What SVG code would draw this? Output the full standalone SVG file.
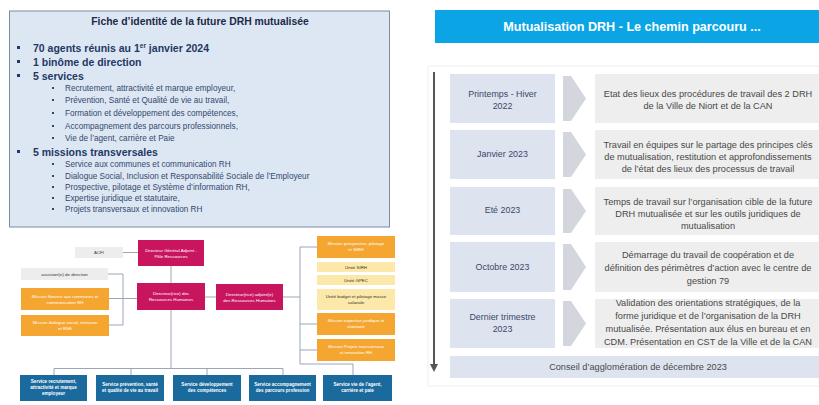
<svg xmlns="http://www.w3.org/2000/svg" width="819" height="405" viewBox="0 0 819 405">
<style>
text{font-family:"Liberation Sans",Arial,sans-serif}
.ttl{font-size:10.4px;font-weight:bold;fill:#1c2a48;text-anchor:middle}
.mb{font-size:10.5px;font-weight:bold;fill:#1f3864}
.sb{font-size:8.2px;fill:#33476e}
.hdr{font-size:12.6px;font-weight:bold;fill:#ffffff;text-anchor:middle}
.dt{font-size:8.9px;fill:#3b4866;text-anchor:middle}
.ds{font-size:9.2px;fill:#484848;text-anchor:middle}
.dbox{fill:#dde4f0}
.gbox{fill:#eeeeee}
.chev{fill:#d3d6dc}
.org{font-size:4.4px;text-anchor:middle}
.w{fill:#ffffff}
.k{fill:#333333}
.mag{fill:#c8155e}
.ora{fill:#f5a631}
.pal{fill:#fce8a8}
.blu{fill:#1a6a9e}
.gry{fill:#ededed}
.conn{stroke:#8e9cb2;stroke-width:0.9;fill:none}
.svc{font-size:4.6px;font-weight:bold;fill:#ffffff;text-anchor:middle}
</style>
<defs>
<marker id="ah" viewBox="0 0 10 10" refX="5" refY="5" markerWidth="4" markerHeight="4" orient="auto">
<path d="M0,0 L10,5 L0,10 z" fill="#555555"/>
</marker>
</defs>
<rect width="819" height="405" fill="#ffffff"/>

<!-- Left identity card -->
<g id="fiche">
<rect x="9.5" y="11" width="380" height="216" fill="#dde7f3" stroke="#7d8ca3" stroke-width="1"/>
<text class="ttl" x="200" y="25">Fiche d’identité de la future DRH mutualisée</text>
<g fill="#1f3864">
<rect x="17" y="46" width="3" height="3"/>
<rect x="17" y="60" width="3" height="3"/>
<rect x="17" y="74" width="3" height="3"/>
<rect x="17" y="150" width="3" height="3"/>
</g>
<text class="mb" x="33" y="52">70 agents réunis au 1<tspan font-size="6.5" dy="-4">er</tspan><tspan dy="4"> janvier 2024</tspan></text>
<text class="mb" x="33" y="66">1 binôme de direction</text>
<text class="mb" x="33" y="80">5 services</text>
<text class="mb" x="33" y="156">5 missions transversales</text>
<g fill="#33476e">
<rect x="52" y="87" width="2" height="2"/>
<rect x="52" y="99" width="2" height="2"/>
<rect x="52" y="112" width="2" height="2"/>
<rect x="52" y="125" width="2" height="2"/>
<rect x="52" y="137" width="2" height="2"/>
<rect x="52" y="163" width="2" height="2"/>
<rect x="52" y="175" width="2" height="2"/>
<rect x="52" y="186" width="2" height="2"/>
<rect x="52" y="197" width="2" height="2"/>
<rect x="52" y="208" width="2" height="2"/>
</g>
<text class="sb" x="65" y="91">Recrutement, attractivité et marque employeur,</text>
<text class="sb" x="65" y="103">Prévention, Santé et Qualité de vie au travail,</text>
<text class="sb" x="65" y="116">Formation et développement des compétences,</text>
<text class="sb" x="65" y="129">Accompagnement des parcours professionnels,</text>
<text class="sb" x="65" y="141">Vie de l’agent, carrière et Paie</text>
<text class="sb" x="65" y="167">Service aux communes  et communication  RH</text>
<text class="sb" x="65" y="179">Dialogue Social, Inclusion  et Responsabilité  Sociale  de l’Employeur</text>
<text class="sb" x="65" y="190">Prospective,  pilotage et Système  d’information  RH,</text>
<text class="sb" x="65" y="201">Expertise juridique  et statutaire,</text>
<text class="sb" x="65" y="212">Projets transversaux  et innovation  RH</text>
</g>

<!-- Org chart connectors -->
<g id="org-connectors" class="conn">
<path d="M123,252.5 H138"/>
<path d="M171,266 V283"/>
<path d="M171,310 V368"/>
<path d="M54,368.5 H283"/>
<path d="M54,368.5 V375 M131,368.5 V375 M207,368.5 V375 M283,368.5 V375"/>
<path d="M108,274 H123 V325 M109,298.5 H137 M109,325 H123"/>
<path d="M205,297 H216"/>
<path d="M283,297 H300"/>
<path d="M300,247 V364 H353 V375"/>
<path d="M300,247 H317 M300,324 H317 M300,350 H317"/>
</g>

<!-- Org chart nodes -->
<g id="org-dga">
<rect class="mag" x="138" y="240" width="66" height="26"/>
<text class="org w" x="171" y="252">Directeur Général Adjoint -</text>
<text class="org w" x="171" y="258">Pôle Ressources</text>
</g>
<g id="org-acfi">
<rect class="gry" x="75" y="247" width="48" height="11"/>
<text class="org k" x="99" y="254">ACFI</text>
</g>
<g id="org-drh">
<rect class="mag" x="137" y="283" width="68" height="27"/>
<text class="org w" x="171" y="295">Directeur(rice) des</text>
<text class="org w" x="171" y="301">Ressources Humaines</text>
</g>
<g id="org-assistant">
<rect class="gry" x="21" y="268" width="87" height="12"/>
<text class="org k" x="64.5" y="275.5">assistant(e) de direction</text>
</g>
<g id="org-mission-communes">
<rect class="ora" x="21" y="288" width="88" height="22"/>
<text class="org w" x="65" y="297.5">Mission Service aux communes et</text>
<text class="org w" x="65" y="303.5">communication RH</text>
</g>
<g id="org-mission-dialogue">
<rect class="ora" x="21" y="315" width="88" height="21"/>
<text class="org w" x="65" y="324">Mission dialogue social, inclusion</text>
<text class="org w" x="65" y="330">et RSE</text>
</g>
<g id="org-drh-adjoint">
<rect class="mag" x="216" y="284" width="67" height="26"/>
<text class="org w" x="249.5" y="295.5">Directeur(rice) adjoint(e)</text>
<text class="org w" x="249.5" y="301.5">des Ressources Humaines</text>
</g>
<g id="org-mission-prospective">
<rect class="ora" x="317" y="236" width="78" height="22"/>
<text class="org w" x="356" y="245">Mission prospective, pilotage</text>
<text class="org w" x="356" y="251">et SIRH</text>
</g>
<g id="org-unite-sirh">
<rect class="pal" x="317" y="262" width="78" height="10"/>
<text class="org k" x="356" y="268.5">Unité SIRH</text>
</g>
<g id="org-unite-gpec">
<rect class="pal" x="317" y="275" width="78" height="10"/>
<text class="org k" x="356" y="281.5">Unité GPEC</text>
</g>
<g id="org-unite-budget">
<rect class="pal" x="317" y="289" width="78" height="21"/>
<text class="org k" x="356" y="298">Unité budget et pilotage masse</text>
<text class="org k" x="356" y="304">salariale</text>
</g>
<g id="org-mission-expertise">
<rect class="ora" x="317" y="313" width="78" height="22"/>
<text class="org w" x="356" y="322">Mission expertise juridique et</text>
<text class="org w" x="356" y="328">statutaire</text>
</g>
<g id="org-mission-projets">
<rect class="ora" x="317" y="339" width="78" height="22"/>
<text class="org w" x="356" y="348">Mission Projets transversaux</text>
<text class="org w" x="356" y="354">et innovation RH</text>
</g>
<g id="org-svc-recrutement">
<rect class="blu" x="20" y="375" width="67" height="26"/>
<text class="svc" x="53.5" y="383">Service recrutement,</text>
<text class="svc" x="53.5" y="389">attractivité et marque</text>
<text class="svc" x="53.5" y="395">employeur</text>
</g>
<g id="org-svc-prevention">
<rect class="blu" x="96" y="375" width="68" height="26"/>
<text class="svc" x="130" y="386">Service prévention, santé</text>
<text class="svc" x="130" y="392">et qualité de vie au travail</text>
</g>
<g id="org-svc-developpement">
<rect class="blu" x="173" y="375" width="68" height="26"/>
<text class="svc" x="207" y="386">Service développement</text>
<text class="svc" x="207" y="392">des compétences</text>
</g>
<g id="org-svc-accompagnement">
<rect class="blu" x="249" y="375" width="67" height="26"/>
<text class="svc" x="282.5" y="386">Service accompagnement</text>
<text class="svc" x="282.5" y="392">des parcours profession</text>
</g>
<g id="org-svc-vie">
<rect class="blu" x="323" y="375" width="69" height="26"/>
<text class="svc" x="357.5" y="386">Service vie de l’agent,</text>
<text class="svc" x="357.5" y="392">carrière et paie</text>
</g>

<!-- Right panel -->
<g id="header">
<rect x="435" y="10" width="384" height="33" fill="#0ba5e6"/>
<text class="hdr" x="632" y="31">Mutualisation DRH - Le chemin parcouru ...</text>
</g>
<rect x="428" y="66" width="391" height="320" fill="#ffffff" stroke="#f0f0f0" stroke-width="1"/>

<g id="timeline-connectors">
<line x1="434" y1="72" x2="434" y2="368" stroke="#555555" stroke-width="2" marker-end="url(#ah)"/>
</g>

<g id="step1">
<rect class="dbox" x="450" y="74" width="105" height="49"/>
<text class="dt" x="502.5" y="97">Printemps - Hiver</text>
<text class="dt" x="502.5" y="109">2022</text>
<polygon class="chev" points="563,76 571,76 586,98.5 571,121 563,121"/>
<rect class="gbox" x="595" y="74" width="224" height="49"/>
<text class="ds" x="708" y="97">Etat des lieux des procédures de travail des 2 DRH</text>
<text class="ds" x="708" y="109">de la Ville de Niort et de la CAN</text>
</g>
<g id="step2">
<rect class="dbox" x="450" y="130" width="105" height="49"/>
<text class="dt" x="502.5" y="157">Janvier 2023</text>
<polygon class="chev" points="563,132 571,132 586,154.5 571,177 563,177"/>
<rect class="gbox" x="595" y="130" width="224" height="49"/>
<text class="ds" x="708" y="148">Travail en équipes sur le partage des principes clés</text>
<text class="ds" x="708" y="160">de mutualisation, restitution et approfondissements</text>
<text class="ds" x="708" y="172">de l’état des lieux des processus de travail</text>
</g>
<g id="step3">
<rect class="dbox" x="450" y="187" width="105" height="48"/>
<text class="dt" x="502.5" y="213">Eté 2023</text>
<polygon class="chev" points="563,189 571,189 586,211 571,233 563,233"/>
<rect class="gbox" x="595" y="187" width="224" height="48"/>
<text class="ds" x="708" y="205">Temps de travail sur l’organisation cible de la future</text>
<text class="ds" x="708" y="217">DRH mutualisée et sur les outils juridiques de</text>
<text class="ds" x="708" y="229">mutualisation</text>
</g>
<g id="step4">
<rect class="dbox" x="450" y="242" width="105" height="50"/>
<text class="dt" x="502.5" y="270">Octobre 2023</text>
<polygon class="chev" points="563,244 571,244 586,267 571,290 563,290"/>
<rect class="gbox" x="595" y="242" width="224" height="50"/>
<text class="ds" x="708" y="258">Démarrage du travail de coopération et de</text>
<text class="ds" x="708" y="271">définition des périmètres  d’action avec le centre de</text>
<text class="ds" x="708" y="284">gestion 79</text>
</g>
<g id="step5">
<rect class="dbox" x="450" y="299" width="105" height="49"/>
<text class="dt" x="502.5" y="320">Dernier trimestre</text>
<text class="dt" x="502.5" y="332">2023</text>
<polygon class="chev" points="563,301 571,301 586,323.5 571,346 563,346"/>
<rect class="gbox" x="595" y="299" width="224" height="49"/>
<text class="ds" x="708" y="306">Validation des orientations stratégiques, de la</text>
<text class="ds" x="708" y="319">forme juridique et de l’organisation de la DRH</text>
<text class="ds" x="708" y="332">mutualisée. Présentation aux élus en bureau et en</text>
<text class="ds" x="708" y="345">CDM. Présentation en CST de la Ville et de la CAN</text>
</g>
<g id="step6">
<rect class="dbox" x="450" y="356" width="369" height="22"/>
<text class="ds" x="638" y="370">Conseil d’agglomération de décembre  2023</text>
</g>
</svg>
